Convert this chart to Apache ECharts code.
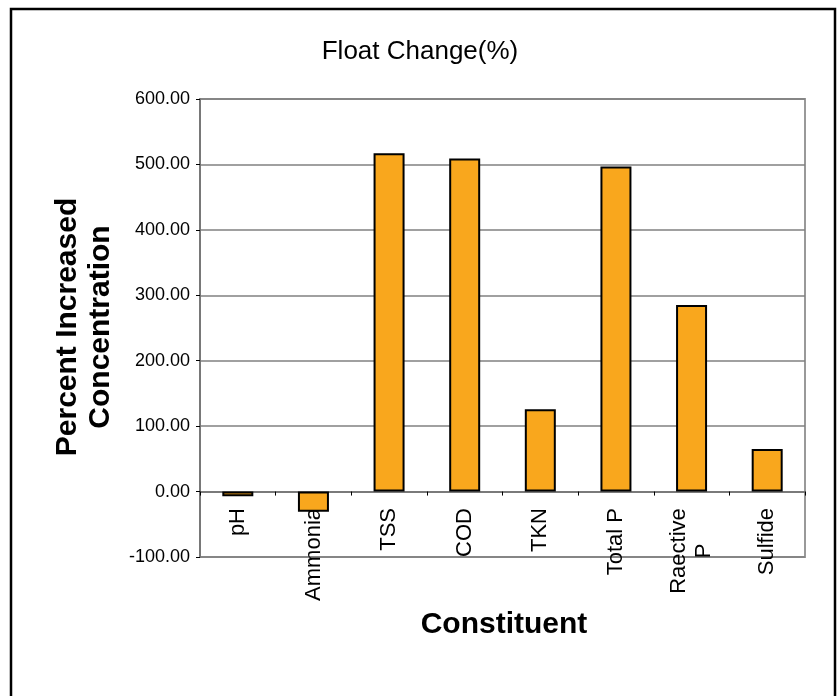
<!DOCTYPE html>
<html>
<head>
<meta charset="utf-8">
<script src="https://cdn.jsdelivr.net/npm/echarts@6/dist/echarts.min.js"></script>
<style>
html,body{margin:0;padding:0;background:#fff;}
#main{width:838px;height:696px;}
</style>
</head>
<body>
<div id="main"></div>
<script>
var categories = ['pH', 'Ammonia', 'TSS', 'COD', 'TKN', 'Total P', 'Raective\nP', 'Sulfide'];
var values = [-7, -31, 517, 509, 126, 497, 285, 65];
var yTicks = { min: -100, max: 600, interval: 100 };
var titleText = 'Float Change(%)';
var yTitle = 'Percent Increased\nConcentration';
var xTitle = 'Constituent';

var chart = echarts.init(document.getElementById('main'), null, { renderer: 'canvas' });
var FONT = '"Liberation Sans", Arial, sans-serif';

chart.setOption({
  backgroundColor: '#ffffff',
  animation: false,
  title: {
    text: titleText,
    left: 415,
    top: 34,
    textAlign: 'center',
    textStyle: { fontFamily: FONT, fontSize: 26, fontWeight: 'normal', color: '#000' }
  },
  grid: {
    left: 200, top: 99, right: 33, bottom: 139,
    show: true, borderColor: '#999999', borderWidth: 2, backgroundColor: 'transparent'
  },
  xAxis: {
    type: 'category',
    data: categories,
    boundaryGap: true,
    axisLine: { onZero: true, lineStyle: { color: '#6e6e6e', width: 1.5 } },
    axisTick: { show: true, alignWithLabel: false, length: 4, lineStyle: { color: '#000', width: 1 } },
    axisLabel: {
      interval: 0,
      rotate: 90,
      margin: -49,
      fontFamily: FONT,
      fontSize: 22,
      color: '#000',
      lineHeight: 25,
      formatter: function (v) {
        if (v.indexOf('\n') >= 0) {
          return v.split('\n').map(function (s) { return '{c|' + s + '}'; }).join('\n');
        }
        return v;
      },
      rich: {
        c: { width: 86, align: 'center', fontFamily: FONT, fontSize: 22, color: '#000', lineHeight: 25 }
      }
    },
    splitLine: { show: false }
  },
  yAxis: {
    type: 'value',
    min: yTicks.min,
    max: yTicks.max,
    interval: yTicks.interval,
    axisLine: { show: true, lineStyle: { color: '#6e6e6e', width: 1.5 } },
    axisTick: { show: true, length: 4, lineStyle: { color: '#000' } },
    axisLabel: {
      margin: 10,
      fontFamily: FONT,
      fontSize: 18,
      color: '#000',
      formatter: function (v) { return v.toFixed(2); }
    },
    splitLine: { show: true, lineStyle: { color: '#808080', width: 1.5 } }
  },
  series: [{
    type: 'bar',
    data: values,
    barWidth: 31,
    itemStyle: { color: '#F9A71D', borderColor: '#000', borderWidth: 2 }
  }],
  graphic: [
    {
      type: 'rect',
      shape: { x: 11, y: 9, width: 824, height: 720 },
      style: { fill: 'none', stroke: '#000', lineWidth: 2.5 },
      z: 100
    },
    {
      type: 'text',
      x: 84, y: 327,
      rotation: Math.PI / 2,
      style: {
        text: yTitle,
        fontFamily: FONT, fontSize: 30, fontWeight: 'bold', fill: '#000',
        textAlign: 'center', textVerticalAlign: 'middle', lineHeight: 33
      }
    },
    {
      type: 'text',
      x: 504, y: 625,
      style: {
        text: xTitle,
        fontFamily: FONT, fontSize: 30, fontWeight: 'bold', fill: '#000',
        textAlign: 'center', textVerticalAlign: 'middle'
      }
    }
  ]
});
</script>
</body>
</html>
